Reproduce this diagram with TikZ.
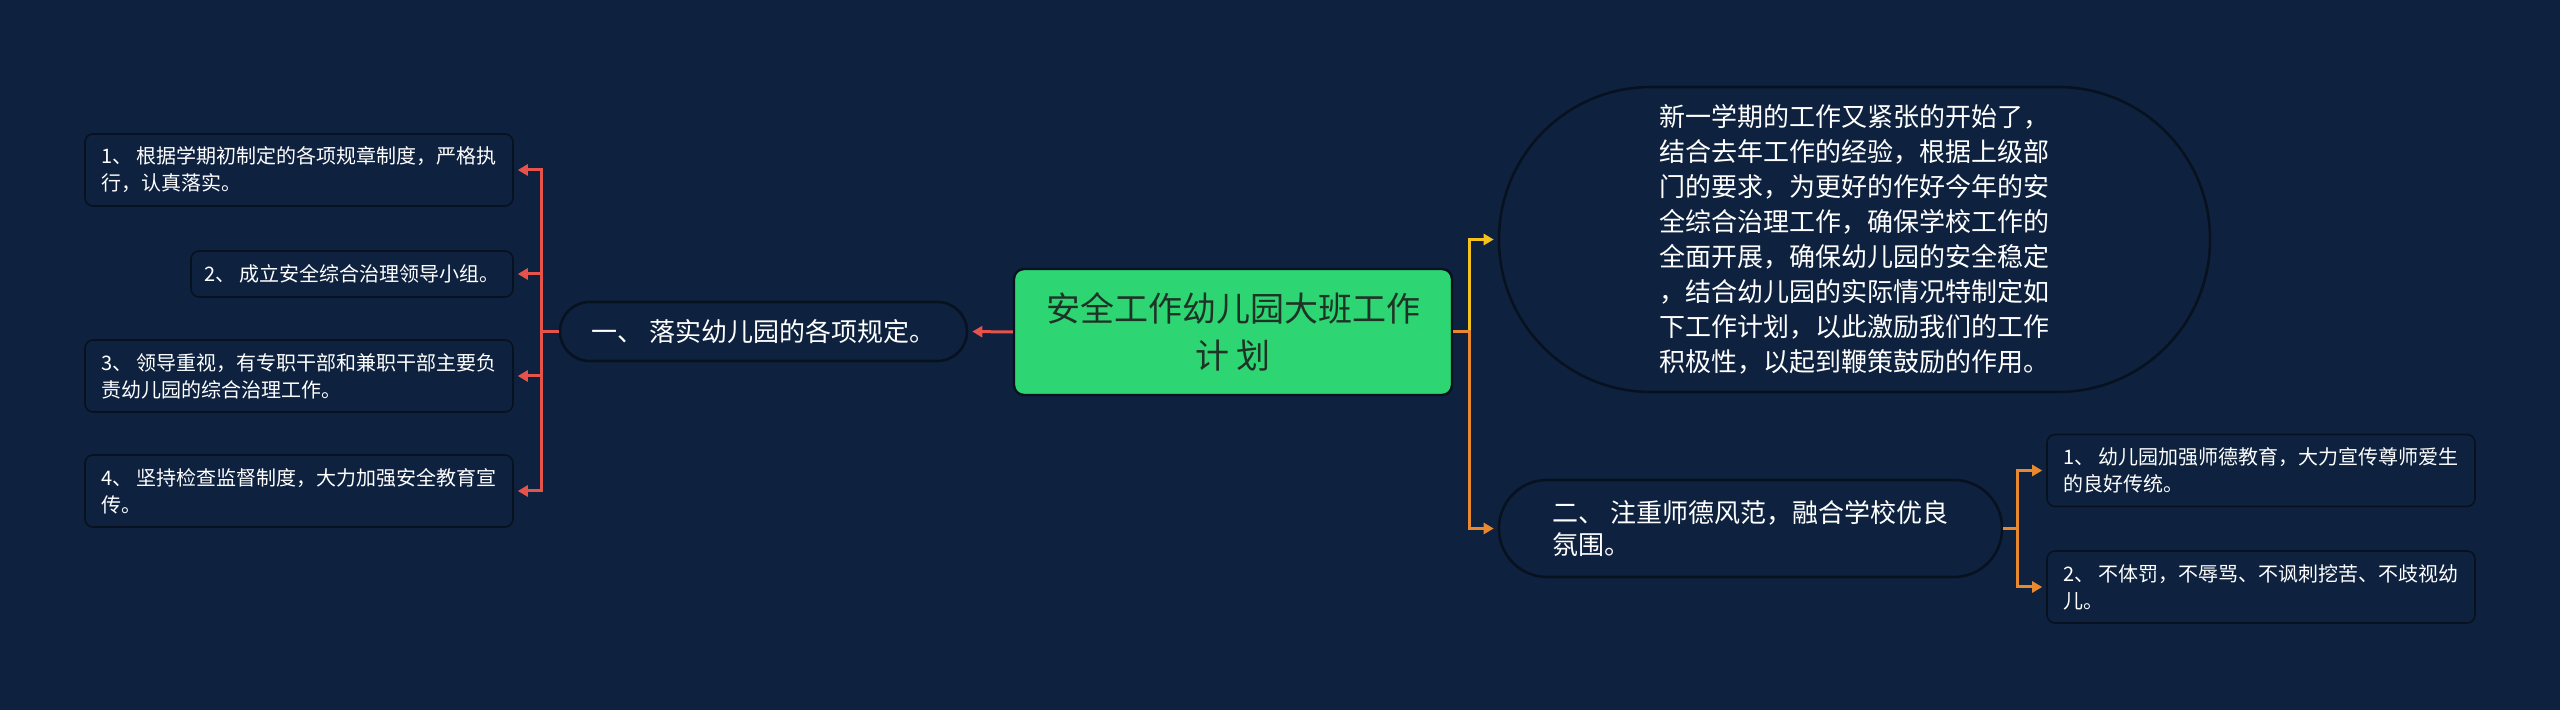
\documentclass[tikz,border=0pt]{standalone}
\usepackage{fontspec}
\usepackage{tikz}
\usetikzlibrary{arrows.meta}
\newfontfamily\cjk{Noto Sans CJK SC}
\definecolor{bgnavy}{HTML}{0E223F}
\definecolor{edgedark}{HTML}{08111F}
\definecolor{rootgreen}{HTML}{2ED573}
\definecolor{rootdark}{HTML}{1E3326}
\definecolor{linered}{HTML}{E5534B}
\definecolor{lineyellow}{HTML}{F4C21F}
\definecolor{lineorange}{HTML}{E8892F}

\begin{document}
\begin{tikzpicture}[x=0.5pt, y=-0.5pt,
  every node/.style={font=\cjk, text=white},
  root/.style={draw=edgedark, line width=1.2pt, fill=rootgreen, rounded corners=5pt,
    minimum width=219pt, minimum height=63pt, align=center, text=rootdark,
    font={\cjk\fontsize{17}{23.5}\selectfont}},
  topic/.style={draw=edgedark, line width=1.3pt, fill=bgnavy, align=left,
    font={\cjk\fontsize{13}{16}\selectfont}},
  leaf/.style={draw=edgedark, line width=0.8pt, fill=bgnavy, rounded corners=4pt,
    align=left, minimum width=214pt, minimum height=36pt,
    font={\cjk\fontsize{10}{13.5}\selectfont}},
  link/.style={line width=1.5pt, -{Triangle[length=5pt,width=5.5pt]}, shorten >=2pt},
]
\fill[bgnavy] (0,0) rectangle (2560,710);

\node[root] (plan) at (1233,332) {安全工作幼儿园大班工作\\计 划};

\node[topic, rounded corners=14.75pt, minimum width=203.5pt, minimum height=29.5pt] (rules) at (763.5,331.5) {一、 落实幼儿园的各项规定。};
\node[leaf] (rule1) at (299,170) {1、 根据学期初制定的各项规章制度，严格执\\行，认真落实。};
\node[leaf, minimum width=161pt, minimum height=23pt] (rule2) at (352,274) {2、 成立安全综合治理领导小组。};
\node[leaf] (rule3) at (299,376) {3、 领导重视，有专职干部和兼职干部主要负\\责幼儿园的综合治理工作。};
\node[leaf] (rule4) at (299,491) {4、 坚持检查监督制度，大力加强安全教育宣\\传。};

\node[topic, rounded corners=76pt, minimum width=355.5pt, minimum height=152.5pt, font={\cjk\fontsize{13}{17.5}\selectfont}] (intro) at (1854.5,239.5) {新一学期的工作又紧张的开始了，\\结合去年工作的经验，根据上级部\\门的要求，为更好的作好今年的安\\全综合治理工作，确保学校工作的\\全面开展，确保幼儿园的安全稳定\\，结合幼儿园的实际情况特制定如\\下工作计划，以此激励我们的工作\\积极性，以起到鞭策鼓励的作用。};

\node[topic, rounded corners=24pt, minimum width=251.5pt, minimum height=48.5pt] (ethics) at (1750.5,528.5) {二、 注重师德风范，融合学校优良\\氛围。};
\node[leaf] (ethics1) at (2261,470.5) {1、 幼儿园加强师德教育，大力宣传尊师爱生\\的良好传统。};
\node[leaf] (ethics2) at (2261,587) {2、 不体罚，不辱骂、不讽刺挖苦、不歧视幼\\儿。};

\draw[link, linered] (plan.west) -- (rules.east);
\foreach \n in {rule1,rule2,rule3,rule4}
  \draw[link, linered] (rules.west) -- ++(-17,0) |- (\n.east);
\draw[link, lineyellow] (plan.east) -- ++(16,0) |- (intro.west);
\draw[link, lineorange] (plan.east) -- ++(16,0) |- (ethics.west);
\foreach \n in {ethics1,ethics2}
  \draw[link, lineorange] (ethics.east) -- ++(14,0) |- (\n.west);
\end{tikzpicture}
\end{document}
